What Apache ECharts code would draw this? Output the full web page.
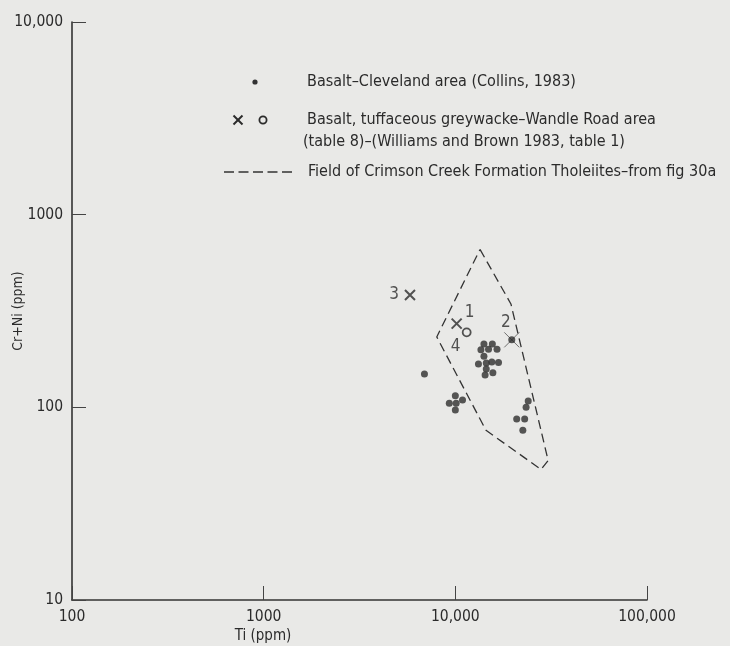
<!DOCTYPE html>
<html>
<head>
<meta charset="utf-8">
<script src="https://cdn.jsdelivr.net/npm/echarts@6/dist/echarts.min.js"></script>
<style>
html,body{margin:0;padding:0;background:#e9e9e7;}
#chart{width:730px;height:646px;}
</style>
</head>
<body>
<div id="chart"></div>
<script>
// ---- data ----
var xTickValues = [100, 1000, 10000, 100000];
var xTickLabels = ['100', '1000', '10,000', '100,000'];
var yTickValues = [10, 100, 1000, 10000];
var yTickLabels = ['10', '100', '1000', '10,000'];

// Basalt - Cleveland area (Collins, 1983)
var clevelandTi = [6900, 14100, 15600, 13600, 14900, 16500, 14100, 13200, 14500, 15500, 16800, 14500, 14300, 15700,
                   10000, 9300, 10100, 10900, 10000,
                   24000, 23400, 20900, 23000, 22500];
var clevelandCrNi = [149, 213, 213, 199, 200, 200, 184, 168, 170, 172, 171, 158, 147, 151,
                     115, 105, 105, 109, 97,
                     108, 100, 87, 87, 76];

// Basalt, tuffaceous greywacke - Wandle Road area (crosses)
var wandleCrossTi = [10160, 19700, 5800];
var wandleCrossCrNi = [272, 224, 383];
var wandleCrossLabels = ['1', '2', '3'];

// Wandle Road area (open circle)
var wandleCircleTi = [11460];
var wandleCircleCrNi = [245];
var wandleCircleLabels = ['4'];

// Field of Crimson Creek Formation Tholeiites (fig 30a)
var fieldTi = [13450, 19500, 30500, 28000, 14450, 8000, 13450];
var fieldCrNi = [660, 344, 53, 47.6, 76, 232, 660];

// ---- chart ----
var FONT = '"DejaVu Sans Condensed","Liberation Sans Narrow","DejaVu Sans",sans-serif';
var INK = '#2b2b2b';

function lookup(vals, labels) {
  return function (v) {
    for (var i = 0; i < vals.length; i++) {
      if (Math.abs(v - vals[i]) / vals[i] < 1e-6) return labels[i];
    }
    return '';
  };
}
function pairs(xs, ys) {
  var out = [];
  for (var i = 0; i < xs.length; i++) out.push([xs[i], ys[i]]);
  return out;
}

var crossPath = 'path://M0,0L10,10M10,0L0,10';

var crossLabelPos = [[13, -11], [-6, -17], [-16, 0]];
var crossData = wandleCrossTi.map(function (x, i) {
  var item = {
    value: [x, wandleCrossCrNi[i]],
    label: {
      show: true, formatter: wandleCrossLabels[i], position: 'inside',
      offset: crossLabelPos[i], fontSize: 17, color: INK, fontFamily: FONT
    }
  };
  if (i === 1) {
    item.symbolSize = 15;
    item.itemStyle = { borderWidth: 0.8 };
  }
  return item;
});
var circleData = wandleCircleTi.map(function (x, i) {
  return {
    value: [x, wandleCircleCrNi[i]],
    label: {
      show: true, formatter: wandleCircleLabels[i], position: 'inside',
      offset: [-11, 14], fontSize: 17, color: INK, fontFamily: FONT
    }
  };
});

var chart = echarts.init(document.getElementById('chart'));
chart.setOption({
  backgroundColor: '#e9e9e7',
  animation: false,
  textStyle: { fontFamily: FONT, color: INK },
  grid: { left: 72, right: 83, top: 22, bottom: 46, containLabel: false, outerBoundsMode: 'none' },
  xAxis: {
    type: 'log', logBase: 10, min: 100, max: 100000,
    axisLine: { show: true, lineStyle: { color: '#333', width: 1.6 } },
    axisTick: { show: true, inside: true, length: 14, lineStyle: { color: '#444', width: 1 } },
    axisLabel: { formatter: lookup(xTickValues, xTickLabels), fontSize: 15.5, color: INK, margin: 9, fontFamily: FONT },
    splitLine: { show: false },
    minorTick: { show: false }
  },
  yAxis: {
    type: 'log', logBase: 10, min: 10, max: 10000,
    name: 'Cr+Ni (ppm)', nameLocation: 'middle', nameGap: 47, nameMoveOverlap: false,
    nameTextStyle: { fontSize: 14, color: INK, fontFamily: FONT },
    axisLine: { show: true, lineStyle: { color: '#333', width: 1.6 } },
    axisTick: { show: true, inside: true, length: 14, lineStyle: { color: '#444', width: 1 } },
    axisLabel: { formatter: lookup(yTickValues, yTickLabels), fontSize: 15.5, color: INK, margin: 9, fontFamily: FONT },
    splitLine: { show: false },
    minorTick: { show: false }
  },
  series: [
    {
      name: 'Field of Crimson Creek Formation Tholeiites',
      type: 'line', data: pairs(fieldTi, fieldCrNi),
      symbol: 'none', silent: true,
      lineStyle: { color: '#333', width: 1.3, type: [9, 5] },
      z: 2
    },
    {
      name: 'Basalt-Cleveland area',
      type: 'scatter', data: pairs(clevelandTi, clevelandCrNi),
      symbol: 'circle', symbolSize: 7,
      itemStyle: { color: '#2e2e2e' },
      z: 3
    },
    {
      name: 'point2 dot',
      type: 'scatter', data: [[wandleCrossTi[1], wandleCrossCrNi[1]]],
      symbol: 'circle', symbolSize: 7,
      itemStyle: { color: '#2e2e2e' },
      z: 3
    },
    {
      name: 'Wandle Road crosses',
      type: 'scatter', data: crossData,
      symbol: crossPath, symbolSize: 10,
      itemStyle: { color: 'rgba(0,0,0,0)', borderColor: '#2b2b2b', borderWidth: 2 },
      z: 4
    },
    {
      name: 'Wandle Road circle',
      type: 'scatter', data: circleData,
      symbol: 'circle', symbolSize: 8,
      itemStyle: { color: 'rgba(0,0,0,0)', borderColor: '#2b2b2b', borderWidth: 1.8 },
      z: 4
    }
  ],
  graphic: [
    // x-axis title
    { type: 'text', x: 263, y: 636, style: { text: 'Ti (ppm)', font: '15px ' + FONT, fill: INK, align: 'center', verticalAlign: 'middle' } },
    // legend
    { type: 'circle', shape: { cx: 255, cy: 82, r: 2.6 }, style: { fill: '#333' } },
    { type: 'text', x: 307, y: 82, style: { text: 'Basalt\u2013Cleveland area (Collins, 1983)', font: '16px ' + FONT, fill: INK, verticalAlign: 'middle' } },
    { type: 'polyline', shape: { points: [[233.5, 115.5], [242.5, 124.5]] }, style: { stroke: '#2b2b2b', lineWidth: 2 } },
    { type: 'polyline', shape: { points: [[242.5, 115.5], [233.5, 124.5]] }, style: { stroke: '#2b2b2b', lineWidth: 2 } },
    { type: 'circle', shape: { cx: 263, cy: 120, r: 3.6 }, style: { fill: 'none', stroke: '#2b2b2b', lineWidth: 1.8 } },
    { type: 'text', x: 307, y: 120, style: { text: 'Basalt, tuffaceous greywacke\u2013Wandle Road area', font: '16px ' + FONT, fill: INK, verticalAlign: 'middle' } },
    { type: 'text', x: 303, y: 142, style: { text: '(table 8)\u2013(Williams and Brown 1983, table 1)', font: '16px ' + FONT, fill: INK, verticalAlign: 'middle' } },
    { type: 'line', shape: { x1: 224, y1: 172, x2: 293, y2: 172 }, style: { stroke: '#333', lineWidth: 1.5, lineDash: [10, 4.5] } },
    { type: 'text', x: 308, y: 172, style: { text: 'Field of Crimson Creek Formation Tholeiites\u2013from fig 30a', font: '16px ' + FONT, fill: INK, verticalAlign: 'middle' } }
  ]
});
</script>
</body>
</html>
